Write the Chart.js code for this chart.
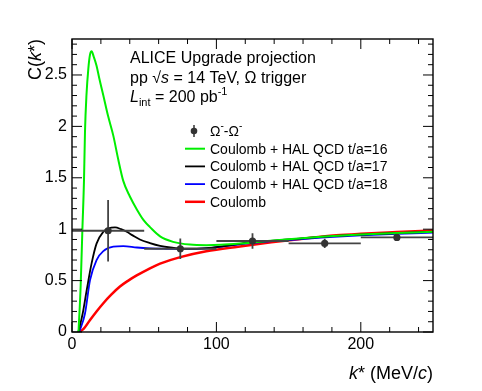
<!DOCTYPE html>
<html>
<head>
<meta charset="utf-8">
<script src="https://cdn.jsdelivr.net/npm/chart.js@4.4.1/dist/chart.umd.min.js"></script>
<style>
html, body { margin: 0; padding: 0; background: #fff; }
</style>
</head>
<body>
<canvas id="c" width="482" height="391"></canvas>
<script>
// values: k* in MeV/c, C(k*)
const greenK = [4.5, 6, 7.2, 8.3, 9, 10, 11.3, 12.5, 13.6, 15, 17, 19, 21.7, 25, 28.6, 32, 35.5, 40, 45, 50, 54, 61, 70, 81.7, 93, 103, 116, 130, 150, 175, 200, 225, 250];
const greenC = [0, 0.45, 1.0, 1.47, 1.95, 2.3, 2.56, 2.70, 2.73, 2.68, 2.59, 2.46, 2.30, 2.10, 1.91, 1.68, 1.47, 1.32, 1.19, 1.08, 1.02, 0.93, 0.877, 0.85, 0.845, 0.848, 0.86, 0.878, 0.903, 0.928, 0.948, 0.963, 0.975];

const blackK = [4.4, 7.4, 10.2, 13.6, 17, 21.7, 25, 29.8, 34, 37.9, 42, 47, 54, 61, 68, 77, 93, 105, 116, 130, 150, 175, 200, 225, 250];
const blackC = [0, 0.18, 0.41, 0.67, 0.86, 0.975, 1.005, 1.017, 1.0, 0.975, 0.94, 0.9, 0.865, 0.838, 0.822, 0.81, 0.815, 0.835, 0.858, 0.878, 0.9, 0.927, 0.947, 0.962, 0.975];

const blueK = [5, 9, 12.5, 17, 21.7, 28.6, 35.5, 45, 54, 65, 77, 93, 105, 116, 130, 150, 175, 200, 225, 250];
const blueC = [0, 0.18, 0.505, 0.70, 0.787, 0.83, 0.836, 0.822, 0.814, 0.81, 0.808, 0.813, 0.832, 0.853, 0.873, 0.895, 0.92, 0.94, 0.955, 0.967];

const redK = [5, 8, 12.5, 17, 21.7, 27, 33, 39, 44.8, 54, 61, 75, 93, 115, 138, 160, 183, 200, 225, 250];
const redC = [0, 0.03, 0.117, 0.2, 0.28, 0.36, 0.44, 0.5, 0.55, 0.62, 0.665, 0.728, 0.785, 0.83, 0.872, 0.908, 0.94, 0.955, 0.972, 0.988];

// projected Omega-Omega points with errors
const ptK = [25, 75, 125, 175, 225];
const ptC = [0.985, 0.81, 0.885, 0.862, 0.92];
const ptErrK = [25, 25, 25, 25, 25];
const ptErrC = [0.3, 0.1, 0.075, 0.045, 0.03];

const curveLabels = ['Coulomb + HAL QCD t/a=16', 'Coulomb + HAL QCD t/a=17', 'Coulomb + HAL QCD t/a=18', 'Coulomb'];
const xTickVals = [0, 100, 200];
const yTickVals = [0, 0.5, 1, 1.5, 2, 2.5];

const FONT = '"Liberation Sans", Arial, Helvetica, sans-serif';

function toXY(ks, cs) {
    return ks.map((k, i) => ({ x: k, y: cs[i] }));
}

function fontOf(s) {
    return (s.italic ? 'italic ' : '') + (s.size || 16) + 'px ' + FONT;
}

// draws a run of text pieces (italic / sub / superscript)
function drawRich(ctx, x, y, segs, align) {
    let w = 0;
    segs.forEach(s => { ctx.font = fontOf(s); w += ctx.measureText(s.t).width; });
    let cx = align === 'right' ? x - w : x;
    segs.forEach(s => {
        ctx.font = fontOf(s);
        ctx.fillText(s.t, cx, y + (s.dy || 0));
        cx += ctx.measureText(s.t).width;
    });
}

function curve(label, ks, cs, color, width) {
    return {
        type: 'scatter',
        label: label,
        data: toXY(ks, cs),
        showLine: true,
        borderColor: color,
        borderWidth: width,
        pointRadius: 0,
        cubicInterpolationMode: 'monotone',
        tension: 0.4,
        order: 1
    };
}

const rootStyle = {
    id: 'rootStyle',
    beforeDatasetDraw(chart, args) {
        if (args.index !== 0) return;
        // error bars under the markers
        const ctx = chart.ctx, xs = chart.scales.x, ys = chart.scales.y, a = chart.chartArea;
        ctx.save();
        ctx.beginPath();
        ctx.rect(a.left, a.top, a.right - a.left, a.bottom - a.top);
        ctx.clip();
        ctx.strokeStyle = '#444';
        ctx.lineWidth = 1.8;
        ptK.forEach((k, i) => {
            const px = xs.getPixelForValue(k), py = ys.getPixelForValue(ptC[i]);
            ctx.beginPath();
            ctx.moveTo(xs.getPixelForValue(k - ptErrK[i]), py);
            ctx.lineTo(xs.getPixelForValue(k + ptErrK[i]), py);
            ctx.moveTo(px, ys.getPixelForValue(ptC[i] - ptErrC[i]));
            ctx.lineTo(px, ys.getPixelForValue(ptC[i] + ptErrC[i]));
            ctx.stroke();
        });
        ctx.restore();
    },
    afterDraw(chart) {
        const ctx = chart.ctx, xs = chart.scales.x, ys = chart.scales.y, a = chart.chartArea;
        ctx.save();

        // frame
        ctx.strokeStyle = '#000';
        ctx.lineWidth = 1.4;
        ctx.strokeRect(a.left, a.top, a.right - a.left, a.bottom - a.top);

        // ticks inside the frame, on all four sides
        ctx.lineWidth = 1;
        ctx.beginPath();
        for (let v = 0; v <= 2.85; v += 0.1) {
            const r = Math.round(v * 10) / 10;
            const len = (Math.round(r * 10) % 5 === 0) ? 10 : 5;
            const py = ys.getPixelForValue(r);
            ctx.moveTo(a.left, py); ctx.lineTo(a.left + len, py);
            ctx.moveTo(a.right, py); ctx.lineTo(a.right - len, py);
        }
        for (let v = 0; v < 250; v += 20) {
            const len = (v % 100 === 0) ? 10 : 5;
            const px = xs.getPixelForValue(v);
            ctx.moveTo(px, a.bottom); ctx.lineTo(px, a.bottom - len);
            ctx.moveTo(px, a.top); ctx.lineTo(px, a.top + len);
        }
        ctx.stroke();

        ctx.fillStyle = '#000';
        ctx.textBaseline = 'alphabetic';

        // axis titles
        drawRich(ctx, a.right, 379, [
            { t: 'k', italic: true, size: 18 }, { t: '* (MeV/', size: 18 },
            { t: 'c', italic: true, size: 18 }, { t: ')', size: 18 }
        ], 'right');
        ctx.save();
        ctx.translate(41, a.top);
        ctx.rotate(-Math.PI / 2);
        drawRich(ctx, 0, 0, [
            { t: 'C(', size: 18 }, { t: 'k', italic: true, size: 18 }, { t: '*)', size: 18 }
        ], 'right');
        ctx.restore();

        // header text
        drawRich(ctx, 130, 63, [{ t: 'ALICE Upgrade projection' }]);
        drawRich(ctx, 130, 83, [
            { t: 'pp ' }, { t: '\u221A' }, { t: 's', italic: true }, { t: ' = 14 TeV, \u03A9 trigger' }
        ]);
        drawRich(ctx, 130, 102, [
            { t: 'L', italic: true }, { t: 'int', size: 11, dy: 4 }, { t: ' = 200 pb' }, { t: '-1', size: 11, dy: -7 }
        ]);

        // legend
        const lx = 185, tx = 210, y0 = 131, step = 17.7;
        ctx.textBaseline = 'middle';
        ctx.fillStyle = '#333';
        ctx.strokeStyle = '#333';
        ctx.lineWidth = 1.5;
        ctx.beginPath();
        ctx.moveTo(194, y0 - 6); ctx.lineTo(194, y0 + 6);
        ctx.stroke();
        ctx.beginPath();
        ctx.arc(194, y0, 3.3, 0, Math.PI * 2);
        ctx.fill();
        ctx.fillStyle = '#000';
        drawRich(ctx, tx, y0 + 1, [
            { t: '\u03A9', size: 14 }, { t: '-', size: 10, dy: -6 },
            { t: '-\u03A9', size: 14 }, { t: '-', size: 10, dy: -6 }
        ]);
        chart.data.datasets.slice(1).forEach((ds, i) => {
            const y = y0 + step * (i + 1);
            ctx.strokeStyle = ds.borderColor;
            ctx.lineWidth = ds.borderWidth;
            ctx.beginPath();
            ctx.moveTo(lx, y); ctx.lineTo(lx + 20, y);
            ctx.stroke();
            ctx.fillStyle = '#000';
            drawRich(ctx, tx, y + 1, [{ t: ds.label, size: 14 }]);
        });

        ctx.restore();
    }
};

new Chart(document.getElementById('c'), {
    type: 'scatter',
    data: {
        datasets: [
            {
                label: 'points',
                data: toXY(ptK, ptC),
                pointRadius: 3.6,
                pointBackgroundColor: '#333',
                pointBorderWidth: 0,
                showLine: false,
                order: 0
            },
            curve(curveLabels[0], greenK, greenC, '#00ee00', 2),
            curve(curveLabels[1], blackK, blackC, '#000000', 1.8),
            curve(curveLabels[2], blueK, blueC, '#0000ff', 1.8),
            curve(curveLabels[3], redK, redC, '#ff0000', 2.5)
        ]
    },
    options: {
        responsive: false,
        animation: false,
        layout: { padding: { left: 0, right: 49, top: 39, bottom: 0 } },
        plugins: {
            legend: { display: false },
            tooltip: { enabled: false }
        },
        scales: {
            x: {
                type: 'linear',
                min: 0,
                max: 250,
                grid: { display: false, drawTicks: false },
                border: { display: false },
                afterBuildTicks: s => { s.ticks = xTickVals.map(v => ({ value: v })); },
                afterFit: s => { s.height = 59; },
                ticks: {
                    padding: 3,
                    maxRotation: 0,
                    color: '#000',
                    font: { family: FONT, size: 16 },
                    callback: v => String(v)
                }
            },
            y: {
                type: 'linear',
                min: 0,
                max: 2.85,
                grid: { display: false, drawTicks: false },
                border: { display: false },
                afterBuildTicks: s => { s.ticks = yTickVals.map(v => ({ value: v })); },
                afterFit: s => { s.width = 72; },
                ticks: {
                    padding: 5,
                    color: '#000',
                    font: { family: FONT, size: 16 },
                    callback: v => String(v)
                }
            }
        }
    },
    plugins: [rootStyle]
});
</script>
</body>
</html>
